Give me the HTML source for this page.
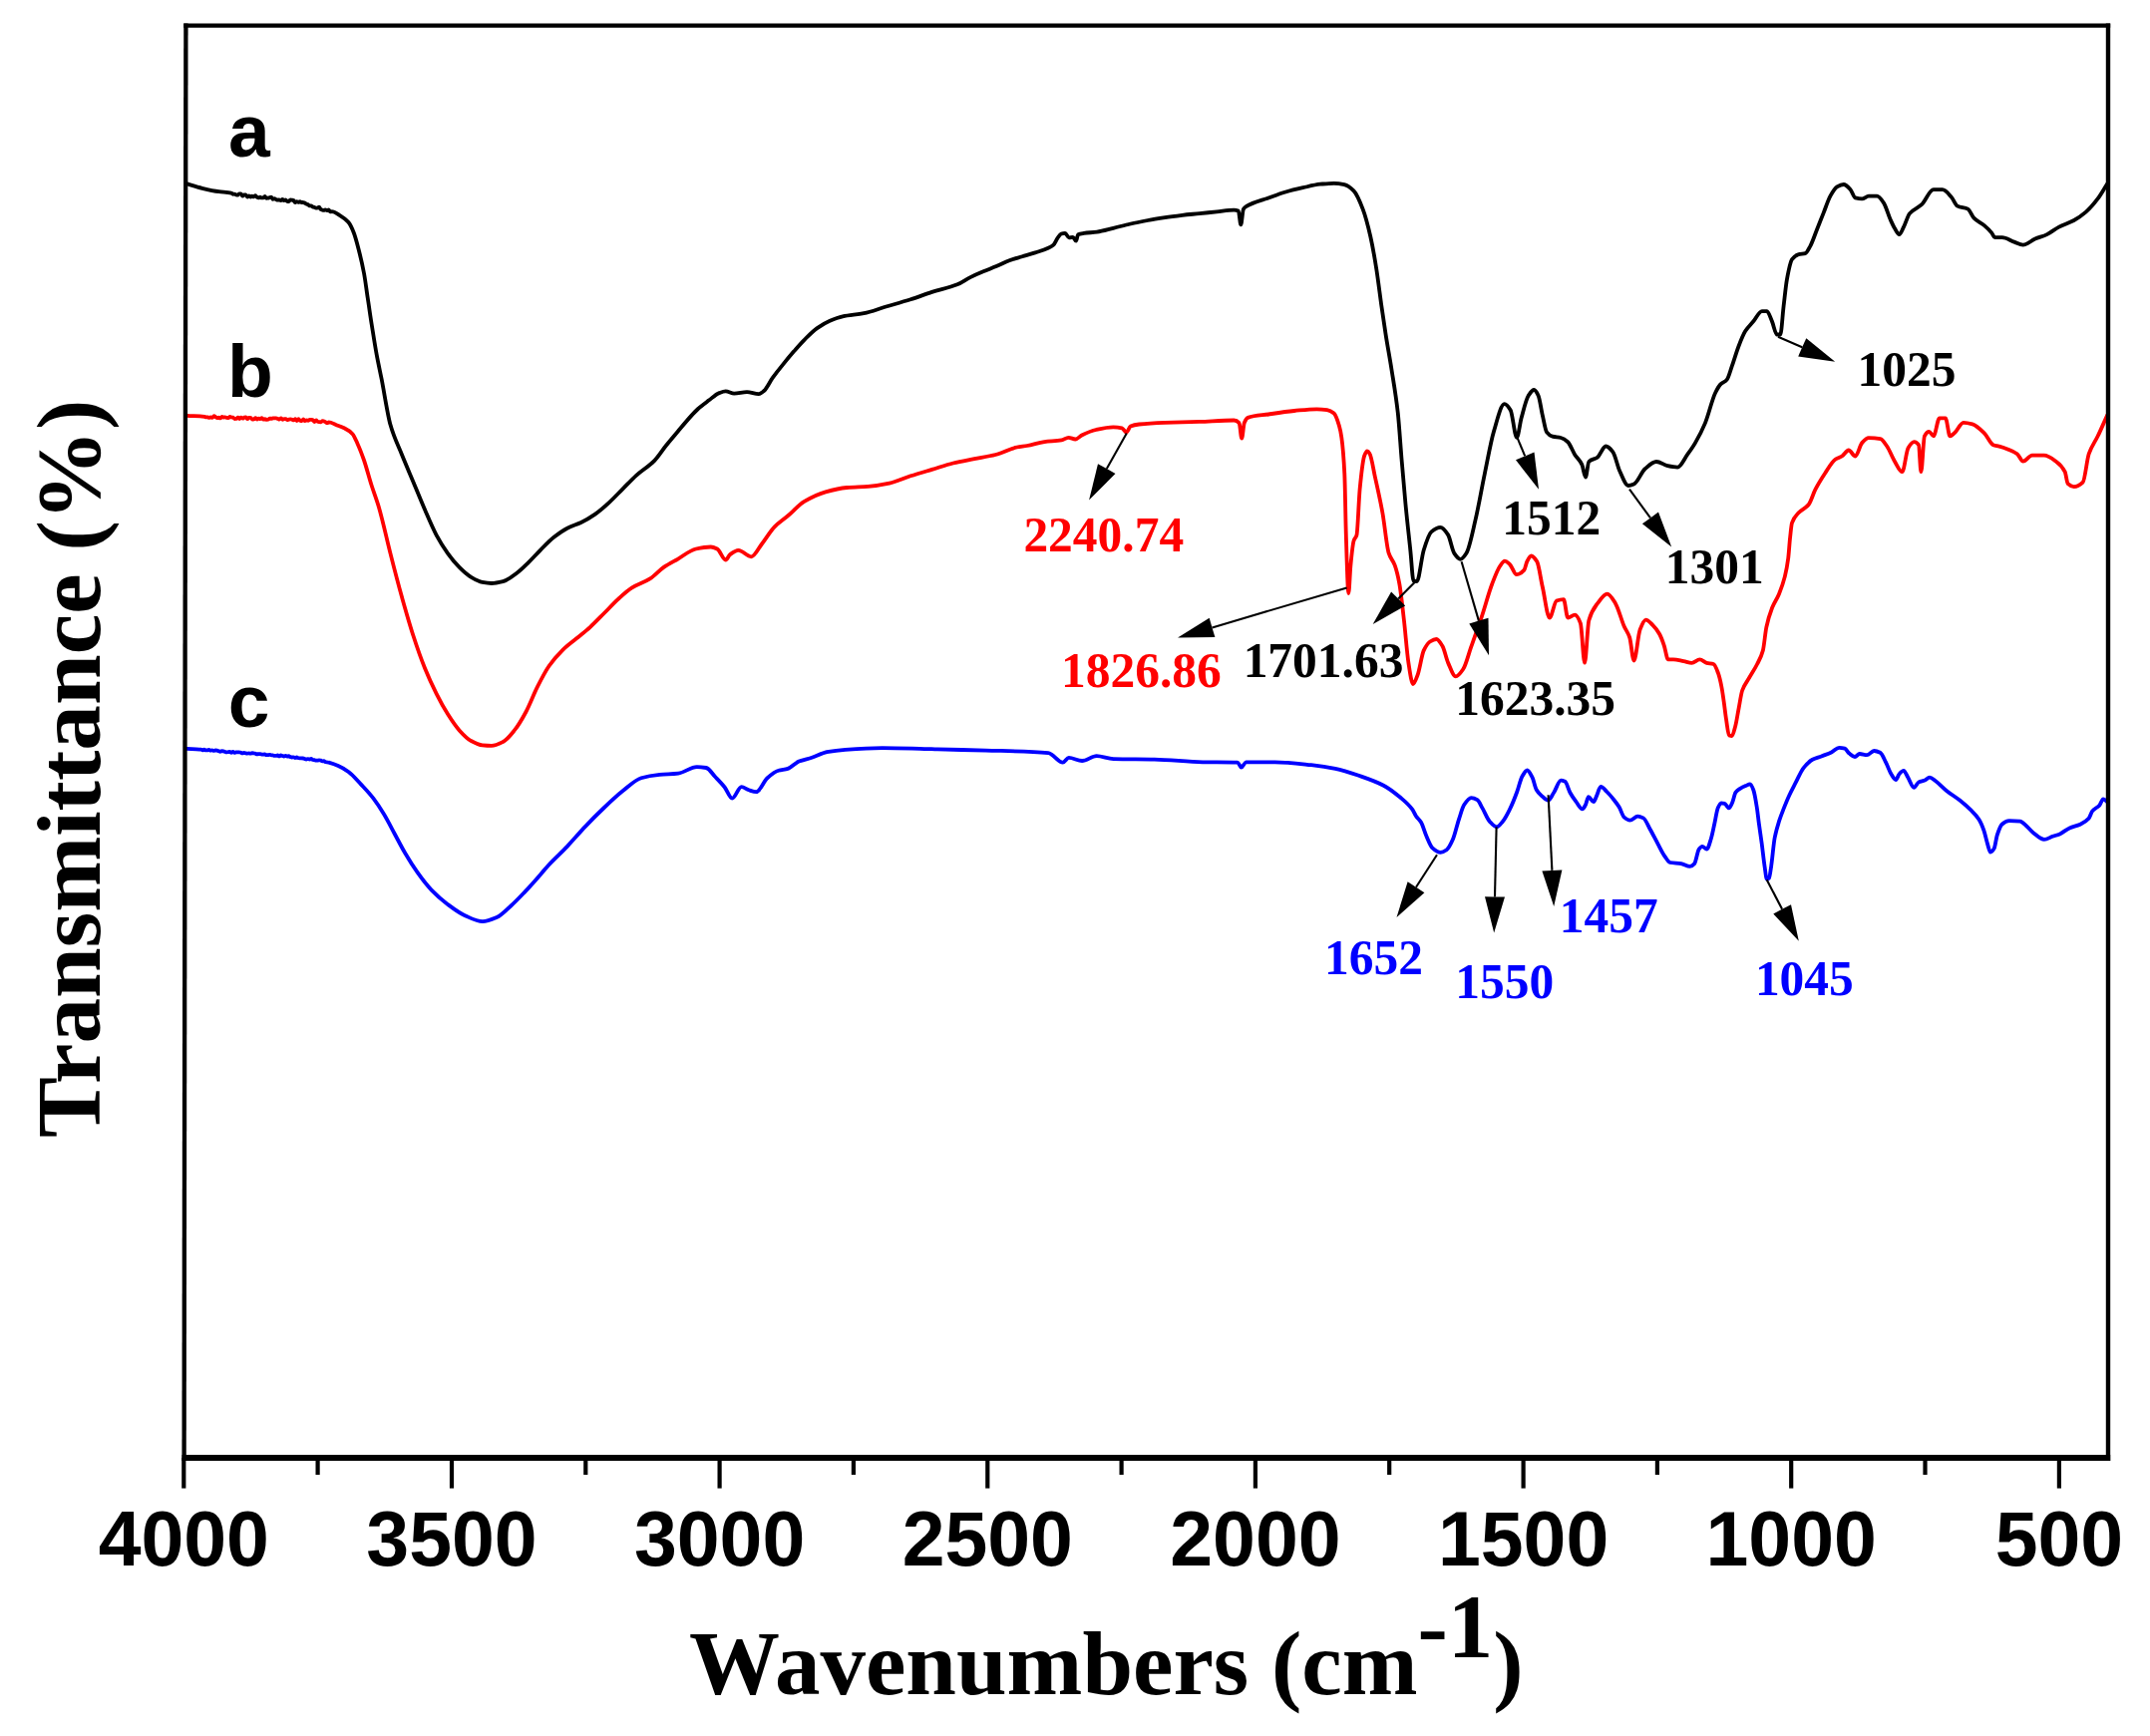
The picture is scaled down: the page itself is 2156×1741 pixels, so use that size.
<!DOCTYPE html>
<html><head><meta charset="utf-8"><title>FTIR spectra</title>
<style>
html,body{margin:0;padding:0;background:#fff;}
body{width:2156px;height:1741px;overflow:hidden;}
svg{display:block;}
.tk{}
</style></head>
<body>
<svg width="2156" height="1741" viewBox="0 0 2156 1741">
<rect x="0" y="0" width="2156" height="1741" fill="#fff"/>
<path d="M187.6,184.4C192.6,185.9 197.7,187.6 202.7,188.8C208.3,190.1 213.9,191.4 219.5,192.2C223.7,192.8 227.8,192.7 232.0,193.7C232.5,193.8 233.1,194.8 233.6,194.8C234.1,194.8 234.7,194.6 235.2,194.6C235.7,194.6 236.3,195.3 236.8,195.4C237.3,195.5 237.9,195.6 238.4,195.6C238.9,195.6 239.5,194.4 240.0,194.4C240.5,194.4 241.1,194.4 241.6,194.4C242.1,194.4 242.7,196.7 243.2,196.7C243.7,196.7 244.3,195.3 244.8,195.3C245.3,195.3 245.9,195.4 246.4,195.4C246.9,195.5 247.5,197.6 248.0,197.6C248.5,197.6 249.1,196.4 249.6,196.4C250.1,196.4 250.7,197.5 251.2,197.5C251.7,197.5 252.3,196.7 252.8,196.7C253.3,196.7 253.9,197.3 254.4,197.3C254.9,197.3 255.5,196.2 256.0,196.2C256.5,196.2 257.1,197.3 257.6,197.6C258.1,198.0 258.7,198.4 259.2,198.4C259.7,198.4 260.3,197.7 260.8,197.7C261.3,197.7 261.9,198.4 262.4,198.4C262.9,198.4 263.5,198.4 264.0,198.4C264.5,198.4 265.1,196.9 265.6,196.9C266.1,196.9 266.7,198.9 267.2,198.9C267.7,198.9 268.3,198.8 268.8,198.6C269.3,198.5 269.9,198.2 270.4,198.1C270.9,197.9 271.5,197.6 272.0,197.6C272.5,197.6 273.1,199.9 273.6,199.9C274.1,199.9 274.7,199.1 275.2,199.1C275.7,199.1 276.3,199.7 276.8,200.0C277.3,200.2 277.9,200.6 278.4,200.6C278.9,200.6 279.5,200.3 280.0,200.3C280.5,200.3 281.1,201.1 281.6,201.1C282.1,201.1 282.7,199.9 283.2,199.9C283.7,199.9 284.3,201.2 284.8,201.2C285.3,201.2 285.9,200.4 286.4,200.4C286.9,200.4 287.5,201.9 288.0,202.0C288.5,202.0 289.1,202.0 289.6,202.0C290.1,202.0 290.7,200.3 291.2,200.3C291.7,200.3 292.3,200.5 292.8,200.6C293.3,200.7 293.9,200.8 294.4,201.0C294.9,201.3 295.5,203.2 296.0,203.2C296.5,203.2 297.1,202.1 297.6,202.1C298.1,202.1 298.7,202.8 299.2,202.8C299.7,202.8 300.3,202.2 300.8,202.2C301.3,202.2 301.9,203.0 302.4,203.0C302.9,203.0 303.5,203.0 304.0,203.0C304.5,203.1 305.1,203.2 305.6,203.5C306.1,203.7 306.7,204.3 307.2,204.6C307.7,204.8 308.3,204.8 308.8,205.1C309.3,205.3 309.9,206.4 310.4,206.4C310.9,206.4 311.5,206.4 312.0,206.4C312.5,206.4 313.1,207.4 313.6,207.5C314.1,207.7 314.7,207.7 315.2,207.9C315.7,208.0 316.3,208.7 316.8,208.7C317.3,208.7 317.9,208.6 318.4,208.4C318.9,208.3 319.5,207.6 320.0,207.6C320.5,207.6 321.1,209.5 321.6,209.9C322.1,210.2 322.7,210.4 323.2,210.6C323.7,210.7 324.3,210.8 324.8,210.8C325.3,210.8 325.9,210.4 326.4,210.4C326.9,210.4 327.5,211.2 328.0,211.2C328.5,211.2 329.1,210.3 329.6,210.3C330.1,210.3 330.7,212.4 331.2,212.4C331.7,212.4 332.3,212.2 332.8,212.2C335.5,212.2 338.2,214.5 340.9,216.1C343.7,217.8 346.5,219.5 349.3,222.8C351.1,224.9 353.0,228.9 354.8,233.5C356.5,237.8 358.2,244.6 359.9,251.2C361.6,257.8 363.3,264.8 365.0,274.0C366.3,280.8 367.5,290.9 368.8,299.3C370.1,307.7 371.3,316.6 372.6,324.7C374.3,335.3 375.9,346.0 377.6,355.1C379.3,364.4 381.0,371.8 382.7,380.4C385.6,395.3 388.6,415.8 391.5,426.1C395.3,439.6 399.2,446.5 403.0,456.0C406.9,465.6 410.7,474.4 414.6,483.7C418.4,492.9 422.3,502.5 426.1,511.3C429.9,520.1 433.8,529.5 437.6,536.6C441.4,543.7 445.3,549.8 449.1,555.1C452.9,560.4 456.8,565.1 460.6,568.9C464.4,572.7 468.3,576.3 472.1,578.6C476.0,580.9 479.8,583.2 483.7,583.9C486.8,584.5 489.8,585.0 492.9,585.0C496.7,585.0 500.6,584.1 504.4,583.2C509.0,582.1 513.6,578.1 518.2,574.7C522.0,571.9 525.9,568.0 529.7,564.3C533.6,560.6 537.4,556.2 541.3,552.3C545.9,547.7 550.5,542.6 555.1,539.0C559.7,535.4 564.3,532.1 568.9,529.7C573.5,527.3 578.1,526.2 582.7,524.0C587.3,521.8 591.9,519.1 596.5,515.9C601.1,512.7 605.8,508.6 610.4,504.4C615.0,500.2 619.6,495.2 624.2,490.6C628.8,486.0 633.4,481.0 638.0,476.8C644.1,471.3 650.3,468.0 656.4,461.8C660.3,457.9 664.1,451.6 668.0,446.8C671.8,442.0 675.7,437.5 679.5,433.0C684.1,427.6 688.7,421.9 693.3,416.9C695.5,414.5 697.8,412.0 700.0,410.0C703.6,406.8 707.1,404.3 710.7,401.6C714.2,399.0 717.8,395.4 721.3,394.1C723.4,393.3 725.6,392.4 727.7,392.4C730.5,392.4 733.4,394.6 736.2,394.6C740.5,394.6 744.7,393.1 749.0,393.1C752.9,393.1 756.9,395.2 760.8,395.2C762.6,395.2 764.3,393.5 766.1,392.0C768.9,389.6 771.8,383.1 774.6,379.2C778.2,374.2 781.7,369.8 785.3,365.4C788.8,361.0 792.4,356.7 795.9,352.6C799.5,348.5 803.0,344.4 806.6,340.8C810.9,336.5 815.1,332.1 819.4,329.1C823.7,326.1 827.9,323.5 832.2,321.7C836.5,319.9 840.7,318.3 845.0,317.4C852.1,315.9 859.2,315.6 866.3,314.2C873.4,312.8 880.5,309.9 887.6,307.8C896.1,305.3 904.7,303.0 913.2,300.3C920.3,298.0 927.4,295.2 934.5,292.9C943.0,290.2 951.5,288.7 960.0,285.3C964.3,283.6 968.7,280.2 973.0,278.1C977.3,276.0 981.7,274.1 986.0,272.3C990.4,270.5 994.7,268.9 999.1,267.1C1003.4,265.3 1007.8,262.8 1012.1,261.2C1016.4,259.6 1020.8,258.6 1025.1,257.3C1029.4,256.0 1033.8,254.8 1038.1,253.4C1042.4,252.0 1046.8,250.8 1051.1,248.8C1052.9,248.0 1054.6,247.2 1056.4,245.6C1057.7,244.4 1059.0,240.9 1060.3,239.1C1061.6,237.3 1062.9,234.9 1064.2,234.5C1065.5,234.1 1066.8,233.9 1068.1,233.9C1069.4,233.9 1070.7,238.4 1072.0,238.4C1073.3,238.4 1074.6,237.8 1075.9,237.8C1077.0,237.8 1078.0,241.7 1079.1,241.7C1079.8,241.7 1080.4,235.5 1081.1,235.2C1083.1,234.3 1085.0,234.2 1087.0,233.9C1091.3,233.3 1095.7,233.2 1100.0,232.6C1105.5,231.8 1110.9,230.1 1116.4,228.8C1122.2,227.4 1127.9,225.8 1133.7,224.5C1139.5,223.2 1145.2,222.1 1151.0,221.0C1156.8,219.9 1162.5,219.0 1168.3,218.1C1174.1,217.2 1179.8,216.5 1185.6,215.8C1191.4,215.1 1197.1,214.7 1202.9,214.1C1208.6,213.5 1214.4,213.0 1220.1,212.4C1225.9,211.8 1231.6,210.6 1237.4,210.6C1238.9,210.6 1240.3,210.9 1241.8,211.5C1242.6,211.9 1243.5,225.3 1244.3,225.3C1245.2,225.3 1246.0,211.3 1246.9,209.8C1247.8,208.3 1248.6,207.7 1249.5,207.2C1257.0,202.5 1264.5,201.2 1272.0,198.5C1277.8,196.4 1283.5,194.2 1289.3,192.5C1295.1,190.8 1300.8,189.5 1306.6,188.2C1312.4,186.9 1318.1,185.3 1323.9,184.7C1328.5,184.3 1333.1,183.8 1337.7,183.8C1341.2,183.8 1344.6,184.4 1348.1,185.2C1351.2,185.9 1354.4,188.3 1357.5,191.4C1360.5,194.4 1363.6,201.8 1366.6,209.7C1369.2,216.4 1371.7,226.0 1374.3,237.2C1376.3,246.1 1378.4,257.9 1380.4,270.8C1381.9,280.5 1383.5,293.6 1385.0,304.4C1386.5,314.9 1388.0,325.3 1389.5,334.9C1391.5,347.9 1393.6,358.4 1395.6,371.5C1397.7,384.8 1399.7,395.5 1401.8,414.3C1403.0,425.5 1404.3,445.4 1405.5,460.1C1406.8,476.0 1408.2,492.0 1409.5,505.9C1411.1,522.6 1412.7,536.4 1414.3,551.7C1415.4,561.9 1416.4,582.2 1417.5,582.5C1418.6,582.8 1419.7,583.0 1420.8,583.0C1423.1,583.0 1425.4,559.0 1427.7,551.7C1430.2,543.7 1432.8,535.5 1435.3,533.4C1438.4,530.8 1441.4,528.8 1444.5,528.8C1447.0,528.8 1449.6,532.5 1452.1,536.4C1454.1,539.5 1456.2,551.7 1458.2,554.7C1460.3,557.8 1462.3,560.8 1464.4,560.8C1466.4,560.8 1468.5,557.8 1470.5,554.7C1473.5,550.1 1476.6,534.0 1479.6,521.1C1482.7,508.1 1485.7,490.0 1488.8,475.3C1491.9,460.6 1494.9,442.9 1498.0,432.6C1501.5,420.8 1505.1,405.1 1508.6,405.1C1510.6,405.1 1512.7,407.9 1514.7,411.2C1516.8,414.6 1518.9,438.8 1521.0,438.8C1522.5,438.8 1524.1,424.9 1525.6,419.3C1528.0,410.6 1530.3,400.3 1532.7,396.7C1534.6,393.9 1536.4,391.0 1538.3,391.0C1539.7,391.0 1541.2,393.7 1542.6,396.7C1544.0,399.6 1545.4,410.3 1546.8,416.4C1548.2,422.5 1549.6,431.6 1551.0,433.4C1552.9,435.9 1554.8,437.1 1556.7,437.6C1559.5,438.4 1562.3,438.3 1565.1,439.0C1567.5,439.6 1569.8,441.1 1572.2,443.2C1574.5,445.3 1576.9,452.2 1579.2,455.9C1581.6,459.6 1583.9,460.9 1586.3,465.8C1587.5,468.4 1588.8,478.5 1590.0,478.5C1591.1,478.5 1592.2,464.1 1593.3,463.0C1596.1,460.1 1599.0,460.8 1601.8,458.7C1604.6,456.6 1607.5,447.5 1610.3,447.5C1612.6,447.5 1615.0,450.2 1617.3,453.1C1619.7,456.0 1622.0,467.8 1624.4,472.8C1627.2,478.7 1630.0,487.0 1632.8,487.0C1634.7,487.0 1636.6,486.3 1638.5,485.5C1642.3,484.0 1646.0,473.2 1649.8,470.0C1653.5,466.8 1657.3,463.0 1661.0,463.0C1664.8,463.0 1668.5,466.4 1672.3,467.2C1675.6,467.9 1678.9,468.6 1682.2,468.6C1685.5,468.6 1688.8,460.5 1692.1,455.9C1694.7,452.3 1697.4,448.6 1700.0,444.1C1703.3,438.4 1706.7,432.1 1710.0,424.1C1713.4,416.0 1716.7,401.0 1720.1,394.0C1721.8,390.5 1723.4,387.4 1725.1,385.6C1727.3,383.2 1729.6,383.3 1731.8,380.6C1733.5,378.6 1735.1,371.9 1736.8,367.2C1739.0,360.9 1741.3,352.9 1743.5,347.2C1745.7,341.5 1748.0,335.6 1750.2,332.1C1753.0,327.7 1755.7,325.4 1758.5,322.1C1761.3,318.7 1764.1,312.1 1766.9,312.1C1768.6,312.1 1770.2,312.1 1771.9,312.1C1773.6,312.1 1775.2,318.3 1776.9,322.1C1778.6,325.9 1780.2,335.5 1781.9,335.5C1783.0,335.5 1784.2,335.5 1785.3,335.5C1786.4,335.5 1787.5,316.2 1788.6,307.0C1789.7,297.8 1790.8,286.3 1791.9,280.3C1793.6,271.1 1795.3,262.4 1797.0,260.2C1799.2,257.3 1801.4,255.7 1803.6,255.2C1805.8,254.6 1808.1,254.8 1810.3,254.2C1812.0,253.7 1813.6,249.9 1815.3,246.9C1817.5,242.8 1819.8,235.8 1822.0,230.2C1824.2,224.6 1826.5,219.0 1828.7,213.4C1830.9,207.8 1833.2,200.7 1835.4,196.7C1837.6,192.7 1839.9,188.7 1842.1,187.4C1844.3,186.1 1846.6,185.0 1848.8,185.0C1851.0,185.0 1853.3,187.6 1855.5,190.0C1857.2,191.8 1858.8,197.9 1860.5,198.4C1862.7,199.0 1865.0,199.4 1867.2,199.4C1869.4,199.4 1871.7,196.7 1873.9,196.7C1876.7,196.7 1879.4,196.7 1882.2,196.7C1884.4,196.7 1886.7,200.2 1888.9,203.4C1891.1,206.6 1893.4,215.1 1895.6,220.1C1897.1,223.4 1898.5,226.6 1900.0,229.0C1901.5,231.4 1903.0,235.1 1904.5,235.1C1906.0,235.1 1907.5,230.5 1909.0,227.6C1911.0,223.8 1913.0,216.5 1915.0,214.1C1919.0,209.4 1923.0,208.9 1927.0,205.2C1931.0,201.5 1934.9,190.2 1938.9,190.2C1941.9,190.2 1944.9,190.2 1947.9,190.2C1950.9,190.2 1953.9,194.4 1956.9,197.7C1958.9,199.9 1960.9,205.6 1962.9,206.6C1966.4,208.4 1969.9,207.8 1973.4,209.6C1975.4,210.6 1977.4,216.6 1979.4,218.6C1982.9,222.1 1986.3,223.2 1989.8,226.1C1992.3,228.2 1994.8,230.5 1997.3,233.6C1998.3,234.8 1999.3,238.1 2000.3,238.1C2002.8,238.1 2005.3,238.1 2007.8,238.1C2011.8,238.1 2015.8,241.2 2019.8,242.6C2022.8,243.7 2025.8,245.6 2028.8,245.6C2032.8,245.6 2036.8,241.3 2040.8,239.6C2044.8,237.9 2048.7,237.0 2052.7,235.1C2056.7,233.2 2060.7,229.7 2064.7,227.6C2069.7,225.0 2074.7,223.7 2079.7,221.0C2083.7,218.8 2087.7,216.0 2091.7,212.6C2095.7,209.2 2099.7,204.5 2103.7,199.2C2106.9,195.0 2110.0,189.2 2113.2,184.2" fill="none" stroke="#000" stroke-width="3.8" stroke-linejoin="round" stroke-linecap="round"/>
<path d="M187.6,416.8C193.4,417.2 199.2,417.3 205.0,417.9C205.5,418.0 206.1,418.2 206.6,418.3C207.1,418.3 207.7,418.4 208.2,418.4C208.7,418.5 209.3,418.8 209.8,418.8C210.3,418.8 210.9,418.5 211.4,418.5C211.9,418.5 212.5,418.9 213.0,418.9C213.5,418.9 214.1,417.2 214.6,417.2C215.1,417.2 215.7,417.9 216.2,418.2C216.7,418.5 217.3,419.2 217.8,419.2C218.3,419.2 218.9,418.7 219.4,418.7C219.9,418.7 220.5,419.3 221.0,419.3C221.5,419.3 222.1,417.8 222.6,417.8C223.1,417.8 223.7,418.6 224.2,418.6C224.7,418.6 225.3,418.3 225.8,418.3C226.3,418.3 226.9,418.9 227.4,418.9C227.9,419.0 228.5,419.1 229.0,419.1C229.5,419.1 230.1,418.0 230.6,418.0C231.1,418.0 231.7,418.4 232.2,418.5C232.7,418.6 233.3,418.6 233.8,418.7C234.3,418.9 234.9,420.1 235.4,420.1C235.9,420.1 236.5,420.0 237.0,419.8C237.5,419.7 238.1,418.7 238.6,418.7C239.1,418.7 239.7,420.0 240.2,420.0C240.7,420.0 241.3,418.7 241.8,418.7C242.3,418.7 242.9,419.6 243.4,419.6C243.9,419.6 244.5,418.8 245.0,418.7C245.5,418.6 246.1,418.5 246.6,418.5C247.1,418.5 247.7,420.2 248.2,420.2C248.7,420.2 249.3,418.9 249.8,418.9C250.3,418.9 250.9,418.9 251.4,419.0C251.9,419.0 252.5,420.5 253.0,420.5C253.5,420.5 254.1,420.4 254.6,420.3C255.1,420.2 255.7,419.2 256.2,419.2C256.7,419.2 257.3,420.6 257.8,420.6C258.3,420.6 258.9,419.7 259.4,419.7C259.9,419.7 260.5,420.0 261.0,420.0C261.5,420.0 262.1,419.1 262.6,419.1C263.1,419.1 263.7,420.7 264.2,420.7C264.7,420.7 265.3,420.2 265.8,420.2C266.3,420.2 266.9,420.8 267.4,420.8C267.9,420.8 268.5,420.8 269.0,420.7C269.5,420.7 270.1,419.6 270.6,419.6C271.1,419.6 271.7,419.8 272.2,419.8C272.7,419.8 273.3,419.4 273.8,419.4C274.3,419.4 274.9,419.4 275.4,419.4C275.9,419.4 276.5,419.3 277.0,419.3C277.5,419.3 278.1,419.7 278.6,419.9C279.1,420.0 279.7,420.5 280.2,420.5C280.7,420.5 281.3,419.4 281.8,419.4C282.3,419.4 282.9,420.8 283.4,420.8C283.9,420.8 284.5,420.1 285.0,420.1C285.5,420.1 286.1,420.1 286.6,420.1C287.1,420.1 287.7,421.2 288.2,421.2C288.7,421.2 289.3,420.7 289.8,420.6C290.3,420.5 290.9,420.4 291.4,420.4C291.9,420.4 292.5,420.6 293.0,420.8C293.5,421.0 294.1,421.3 294.6,421.3C295.1,421.3 295.7,420.1 296.2,420.1C296.7,420.1 297.3,422.0 297.8,422.0C298.3,422.0 298.9,420.2 299.4,420.2C299.9,420.2 300.5,421.6 301.0,421.8C301.5,421.9 302.1,422.0 302.6,422.0C303.1,422.0 303.7,420.5 304.2,420.5C304.7,420.5 305.3,422.1 305.8,422.1C306.3,422.1 306.9,421.3 307.4,421.3C307.9,421.3 308.5,421.8 309.0,421.8C309.5,421.8 310.1,420.8 310.6,420.8C311.1,420.8 311.7,420.9 312.2,420.9C312.7,421.0 313.3,421.1 313.8,421.3C314.3,421.5 314.9,423.0 315.4,423.0C315.9,423.0 316.5,421.5 317.0,421.5C317.5,421.5 318.1,422.5 318.6,422.8C319.1,423.0 319.7,423.1 320.2,423.2C320.7,423.3 321.3,423.3 321.8,423.3C322.3,423.3 322.9,422.2 323.4,422.2C323.9,422.2 324.5,422.4 325.0,422.5C325.5,422.7 326.1,423.0 326.6,423.3C327.1,423.6 327.7,424.2 328.2,424.2C328.7,424.2 329.3,423.3 329.8,423.3C332.1,423.3 334.5,425.1 336.8,426.0C339.6,427.1 342.3,427.9 345.1,429.3C347.9,430.7 350.7,432.2 353.5,435.2C355.2,437.0 356.8,441.3 358.5,445.0C360.7,449.8 362.8,455.3 365.0,461.5C367.5,468.8 370.1,478.8 372.6,486.8C375.1,494.6 377.5,500.6 380.0,509.0C383.8,522.0 387.7,540.1 391.5,555.1C395.3,570.1 399.2,585.1 403.0,598.8C406.9,612.6 410.7,626.1 414.6,638.0C418.4,649.8 422.3,660.8 426.1,670.3C429.9,679.8 433.8,688.0 437.6,695.6C441.4,703.2 445.3,710.3 449.1,716.3C452.9,722.3 456.8,728.2 460.6,732.4C464.4,736.6 468.3,740.7 472.1,742.8C476.0,744.9 479.8,747.0 483.7,747.4C486.8,747.7 489.8,747.9 492.9,747.9C496.7,747.9 500.6,745.9 504.4,744.0C508.2,742.1 512.1,737.1 515.9,732.4C519.7,727.7 523.6,721.1 527.4,714.0C531.3,706.9 535.1,696.3 539.0,688.7C542.8,681.1 546.7,673.5 550.5,668.0C555.1,661.4 559.7,656.3 564.3,651.8C568.9,647.3 573.5,644.1 578.1,640.3C582.7,636.5 587.3,633.0 591.9,628.8C596.5,624.6 601.2,619.6 605.8,615.0C610.4,610.4 615.0,605.3 619.6,601.1C624.2,596.9 628.8,592.5 633.4,589.6C639.5,585.7 645.7,584.3 651.8,580.4C656.4,577.5 661.0,572.1 665.6,568.9C670.2,565.7 674.9,563.4 679.5,560.8C685.6,557.3 691.8,551.8 697.9,550.5C702.9,549.4 707.8,548.5 712.8,548.5C714.9,548.5 717.1,549.5 719.2,550.5C722.0,551.9 724.9,561.5 727.7,561.5C729.1,561.5 730.6,557.3 732.0,556.2C734.8,554.1 737.7,551.9 740.5,551.9C744.8,551.9 749.0,558.3 753.3,558.3C756.9,558.3 760.4,550.0 764.0,545.5C768.2,540.1 772.5,532.7 776.7,528.4C781.0,524.0 785.2,521.4 789.5,517.8C795.2,513.0 800.9,506.3 806.6,502.9C813.7,498.6 820.8,495.3 827.9,493.3C835.0,491.3 842.1,489.6 849.2,489.0C856.3,488.4 863.4,488.4 870.5,487.9C877.6,487.4 884.8,486.2 891.9,484.7C899.0,483.2 906.1,479.6 913.2,477.3C920.3,475.0 927.4,473.0 934.5,470.9C941.6,468.8 948.7,466.2 955.8,464.5C962.9,462.8 970.0,461.6 977.1,460.2C984.2,458.8 991.3,457.8 998.4,456.0C1005.5,454.2 1012.7,449.9 1019.8,448.5C1023.2,447.8 1026.6,447.6 1030.0,447.0C1035.8,446.0 1041.5,443.9 1047.3,443.1C1053.1,442.3 1058.8,442.4 1064.6,441.4C1066.9,441.0 1069.2,438.8 1071.5,438.8C1073.8,438.8 1076.1,440.5 1078.4,440.5C1080.7,440.5 1083.0,437.3 1085.3,436.2C1089.9,434.0 1094.5,432.0 1099.1,431.0C1104.9,429.7 1110.6,428.4 1116.4,428.4C1119.3,428.4 1122.2,428.7 1125.1,429.3C1126.5,429.6 1128.0,433.6 1129.4,433.6C1130.8,433.6 1132.3,428.2 1133.7,427.6C1136.6,426.3 1139.5,425.8 1142.4,425.5C1151.0,424.5 1159.7,424.1 1168.3,423.8C1179.8,423.4 1191.4,423.3 1202.9,422.9C1214.4,422.5 1225.9,421.5 1237.4,421.5C1239.1,421.5 1240.9,422.3 1242.6,424.1C1243.5,425.0 1244.3,439.7 1245.2,439.7C1246.1,439.7 1246.9,426.2 1247.8,424.1C1249.0,421.2 1250.1,419.3 1251.3,418.9C1258.2,416.4 1265.1,416.5 1272.0,415.5C1280.6,414.2 1289.3,412.8 1297.9,412.0C1305.4,411.3 1312.9,410.3 1320.4,410.3C1323.9,410.3 1327.3,410.6 1330.8,411.1C1333.1,411.4 1335.4,412.6 1337.7,414.5C1339.4,416.0 1341.2,421.2 1342.9,427.0C1343.7,429.7 1344.5,433.2 1345.3,438.7C1346.3,445.6 1347.3,455.3 1348.3,475.3C1348.8,485.3 1349.3,521.2 1349.8,536.4C1350.6,561.8 1351.5,595.0 1352.3,595.0C1353.0,595.0 1353.7,574.1 1354.4,567.0C1355.4,556.6 1356.5,545.8 1357.5,542.5C1358.5,539.3 1359.5,540.0 1360.5,536.4C1361.5,532.7 1362.6,500.9 1363.6,490.6C1365.1,475.3 1366.7,460.8 1368.2,457.0C1369.1,454.7 1370.1,452.5 1371.0,452.5C1371.8,452.5 1372.7,453.7 1373.5,455.0C1375.3,457.7 1377.1,470.2 1378.9,478.4C1381.4,489.9 1384.0,500.9 1386.5,515.0C1388.5,526.3 1390.6,548.5 1392.6,554.7C1394.6,560.9 1396.7,561.4 1398.7,566.9C1400.2,571.1 1401.8,577.1 1403.3,585.3C1404.8,593.5 1406.4,608.6 1407.9,621.9C1409.4,634.9 1410.9,655.2 1412.4,664.6C1413.9,674.2 1415.5,686.0 1417.0,686.0C1418.5,686.0 1420.1,680.9 1421.6,676.9C1423.6,671.6 1425.7,656.7 1427.7,652.4C1429.8,648.0 1431.9,644.8 1434.0,643.5C1436.1,642.2 1438.3,641.0 1440.4,641.0C1442.4,641.0 1444.5,644.6 1446.5,648.0C1448.4,651.1 1450.2,660.4 1452.1,664.6C1454.7,670.4 1457.2,678.4 1459.8,678.4C1462.3,678.4 1464.9,674.5 1467.4,670.8C1469.9,667.1 1472.5,656.6 1475.0,649.4C1478.6,639.3 1482.1,629.6 1485.7,618.9C1489.3,608.2 1492.8,594.6 1496.4,585.3C1498.9,578.7 1501.5,571.6 1504.0,568.0C1505.7,565.6 1507.3,562.7 1509.0,562.7C1510.7,562.7 1512.3,564.5 1514.0,566.0C1516.3,568.0 1518.5,576.1 1520.8,576.1C1523.4,576.1 1525.9,574.4 1528.5,571.6C1529.4,570.6 1530.4,564.9 1531.3,563.1C1532.7,560.4 1534.1,557.5 1535.5,557.5C1537.4,557.5 1539.3,560.0 1541.2,563.1C1543.1,566.1 1544.9,580.2 1546.8,588.5C1549.2,599.0 1551.5,619.5 1553.9,619.5C1556.2,619.5 1558.6,603.5 1560.9,602.6C1563.3,601.7 1565.6,601.2 1568.0,601.2C1569.4,601.2 1570.8,619.5 1572.2,619.5C1574.5,619.5 1576.9,616.7 1579.2,616.7C1581.1,616.7 1583.0,620.1 1584.9,625.2C1586.3,628.9 1587.7,664.7 1589.1,664.7C1590.5,664.7 1591.9,627.3 1593.3,622.3C1596.1,612.1 1599.0,609.2 1601.8,605.4C1605.1,601.0 1608.4,595.6 1611.7,595.6C1614.5,595.6 1617.3,600.9 1620.1,605.4C1622.9,610.0 1625.8,621.6 1628.6,628.0C1630.5,632.2 1632.3,633.7 1634.2,639.3C1635.6,643.6 1637.1,662.5 1638.5,662.5C1640.5,662.5 1642.6,636.5 1644.6,631.4C1646.5,626.5 1648.5,621.6 1650.4,621.6C1652.7,621.6 1655.0,624.6 1657.3,626.8C1659.6,629.0 1661.9,631.9 1664.2,636.0C1665.7,638.7 1667.3,643.1 1668.8,647.6C1670.1,651.5 1671.5,661.4 1672.8,661.4C1674.5,661.4 1676.3,661.4 1678.0,661.4C1681.5,661.4 1684.9,662.5 1688.4,663.1C1691.1,663.6 1693.8,664.8 1696.5,664.8C1699.2,664.8 1701.8,661.4 1704.5,661.4C1706.8,661.4 1709.1,664.2 1711.4,664.8C1713.7,665.4 1716.0,665.2 1718.3,666.0C1719.9,666.5 1721.4,671.0 1723.0,675.2C1724.1,678.3 1725.3,683.2 1726.4,689.0C1727.2,692.9 1727.9,698.6 1728.7,704.0C1729.5,709.4 1730.2,716.4 1731.0,721.3C1732.0,727.5 1732.9,737.0 1733.9,737.4C1734.9,737.8 1735.8,738.0 1736.8,738.0C1737.9,738.0 1739.1,732.4 1740.2,728.2C1741.4,723.9 1742.5,715.8 1743.7,709.8C1744.8,703.9 1746.0,695.7 1747.1,692.5C1749.4,685.9 1751.8,683.9 1754.1,679.8C1756.8,675.1 1759.4,671.4 1762.1,666.0C1764.0,662.1 1766.0,659.3 1767.9,652.2C1769.0,648.0 1770.2,634.4 1771.3,629.1C1773.2,620.1 1775.2,614.4 1777.1,609.5C1779.4,603.7 1781.7,601.2 1784.0,595.7C1785.9,591.0 1787.9,586.0 1789.8,578.4C1790.9,573.9 1792.1,568.6 1793.2,560.0C1793.8,555.5 1794.4,545.5 1795.0,540.0C1795.7,533.9 1796.3,526.3 1797.0,524.4C1799.2,518.0 1801.4,516.7 1803.6,514.3C1807.0,510.6 1810.3,510.2 1813.7,506.0C1815.9,503.2 1818.2,495.2 1820.4,490.9C1823.7,484.4 1827.1,479.2 1830.4,474.2C1833.7,469.2 1837.1,463.1 1840.4,460.8C1842.6,459.2 1844.9,458.9 1847.1,457.5C1849.3,456.1 1851.6,451.5 1853.8,451.5C1856.0,451.5 1858.3,457.5 1860.5,457.5C1862.7,457.5 1865.0,446.5 1867.2,444.1C1869.4,441.7 1871.7,439.1 1873.9,439.1C1877.8,439.1 1881.7,439.4 1885.6,440.1C1887.8,440.5 1890.0,444.4 1892.2,447.5C1894.8,451.2 1897.4,458.5 1900.0,462.7C1902.5,466.8 1905.0,473.2 1907.5,473.2C1909.5,473.2 1911.5,452.4 1913.5,449.2C1915.5,446.0 1917.5,443.2 1919.5,443.2C1921.0,443.2 1922.5,444.1 1924.0,446.2C1924.8,447.3 1925.6,473.2 1926.4,473.2C1927.6,473.2 1928.7,439.5 1929.9,437.3C1931.4,434.5 1932.9,432.8 1934.4,432.8C1935.9,432.8 1937.4,437.3 1938.9,437.3C1940.9,437.3 1942.9,419.3 1944.9,419.3C1946.9,419.3 1948.9,419.3 1950.9,419.3C1952.4,419.3 1953.9,437.3 1955.4,437.3C1956.9,437.3 1958.4,435.5 1959.9,434.3C1962.9,431.8 1965.9,423.8 1968.9,423.8C1971.9,423.8 1974.9,424.5 1977.9,425.3C1981.9,426.4 1985.8,430.4 1989.8,434.3C1992.8,437.2 1995.8,445.0 1998.8,446.2C2000.8,447.0 2002.8,447.1 2004.8,447.7C2007.8,448.5 2010.8,449.5 2013.8,450.7C2016.8,451.9 2019.8,453.0 2022.8,455.2C2024.8,456.7 2026.8,462.7 2028.8,462.7C2031.8,462.7 2034.8,456.7 2037.8,456.7C2041.8,456.7 2045.7,456.7 2049.7,456.7C2053.7,456.7 2057.7,459.8 2061.7,462.7C2064.7,464.8 2067.7,467.2 2070.7,473.2C2071.7,475.2 2072.7,484.2 2073.7,485.2C2075.7,487.1 2077.7,488.2 2079.7,488.2C2082.7,488.2 2085.7,486.6 2088.7,483.7C2090.7,481.8 2092.7,461.0 2094.7,455.2C2097.7,446.6 2100.7,443.6 2103.7,437.3C2106.9,430.7 2110.0,423.3 2113.2,416.3" fill="none" stroke="#ff0000" stroke-width="3.8" stroke-linejoin="round" stroke-linecap="round"/>
<path d="M187.1,750.9C191.4,751.1 195.7,751.6 200.0,751.6C200.5,751.6 201.1,751.6 201.6,751.6C202.1,751.6 202.7,752.3 203.2,752.3C203.7,752.3 204.3,751.7 204.8,751.7C205.3,751.7 205.9,752.4 206.4,752.4C206.9,752.4 207.5,752.3 208.0,752.3C208.5,752.3 209.1,752.0 209.6,752.0C210.1,752.0 210.7,752.7 211.2,752.7C211.7,752.7 212.3,752.3 212.8,752.3C213.3,752.3 213.9,752.9 214.4,752.9C214.9,752.9 215.5,752.5 216.0,752.5C216.5,752.5 217.1,752.6 217.6,752.7C218.1,752.8 218.7,753.0 219.2,753.2C219.7,753.4 220.3,753.8 220.8,753.8C221.3,753.8 221.9,753.1 222.4,753.1C222.9,753.1 223.5,753.2 224.0,753.3C224.5,753.4 225.1,753.7 225.6,753.9C226.1,754.1 226.7,754.4 227.2,754.4C227.7,754.4 228.3,754.1 228.8,754.1C229.3,754.0 229.9,754.0 230.4,754.0C230.9,754.0 231.5,754.8 232.0,754.8C232.5,754.8 233.1,753.8 233.6,753.8C234.1,753.8 234.7,754.9 235.2,754.9C235.7,754.9 236.3,754.4 236.8,754.3C237.3,754.3 237.9,754.3 238.4,754.3C238.9,754.3 239.5,754.3 240.0,754.4C240.5,754.4 241.1,754.5 241.6,754.7C242.1,754.9 242.7,755.4 243.2,755.4C243.7,755.4 244.3,754.8 244.8,754.8C245.3,754.8 245.9,755.3 246.4,755.4C246.9,755.5 247.5,755.6 248.0,755.6C248.5,755.6 249.1,755.4 249.6,755.4C250.1,755.4 250.7,755.7 251.2,755.7C251.7,755.7 252.3,755.2 252.8,755.2C253.3,755.2 253.9,755.3 254.4,755.4C254.9,755.4 255.5,755.5 256.0,755.7C256.5,755.8 257.1,756.3 257.6,756.3C258.1,756.3 258.7,756.2 259.2,756.2C259.7,756.2 260.3,756.1 260.8,756.1C261.3,756.1 261.9,756.6 262.4,756.6C262.9,756.6 263.5,756.6 264.0,756.6C264.5,756.5 265.1,756.5 265.6,756.5C266.1,756.5 266.7,757.2 267.2,757.2C267.7,757.2 268.3,757.2 268.8,757.2C269.3,757.2 269.9,756.8 270.4,756.8C270.9,756.8 271.5,757.3 272.0,757.3C272.5,757.4 273.1,757.3 273.6,757.4C274.1,757.4 274.7,757.9 275.2,757.9C275.7,757.9 276.3,757.9 276.8,757.9C277.3,757.8 277.9,757.5 278.4,757.5C278.9,757.5 279.5,758.4 280.0,758.4C280.5,758.4 281.1,757.5 281.6,757.5C282.1,757.5 282.7,757.8 283.2,758.0C283.7,758.2 284.3,758.5 284.8,758.5C285.3,758.5 285.9,757.9 286.4,757.9C286.9,757.9 287.5,758.5 288.0,758.5C288.5,758.5 289.1,758.2 289.6,758.2C290.1,758.2 290.7,759.0 291.2,759.1C291.7,759.3 292.3,759.5 292.8,759.5C293.3,759.5 293.9,759.4 294.4,759.4C294.9,759.4 295.5,760.0 296.0,760.0C296.5,760.0 297.1,759.5 297.6,759.5C298.1,759.5 298.7,760.1 299.2,760.2C299.7,760.2 300.3,760.2 300.8,760.3C301.3,760.3 301.9,760.4 302.4,760.4C302.9,760.5 303.5,760.5 304.0,760.5C304.5,760.5 305.1,761.0 305.6,761.1C306.1,761.3 306.7,761.5 307.2,761.5C307.7,761.5 308.3,761.1 308.8,761.1C309.3,761.1 309.9,761.5 310.4,761.5C310.9,761.5 311.5,761.0 312.0,761.0C312.5,761.0 313.1,761.9 313.6,762.0C314.1,762.1 314.7,762.0 315.2,762.1C315.7,762.2 316.3,762.7 316.8,762.7C317.3,762.7 317.9,762.7 318.4,762.7C318.9,762.7 319.5,762.3 320.0,762.3C320.5,762.3 321.1,762.5 321.6,762.6C322.1,762.8 322.7,763.4 323.2,763.4C323.7,763.4 324.3,763.1 324.8,763.1C325.3,763.1 325.9,764.1 326.4,764.2C326.9,764.2 327.5,764.2 328.0,764.3C328.5,764.3 329.1,764.5 329.6,764.7C332.8,765.6 335.9,766.6 339.1,768.0C342.6,769.5 346.2,771.6 349.7,774.2C353.8,777.2 357.9,782.2 362.0,786.6C366.1,791.0 370.3,795.3 374.4,800.7C377.9,805.3 381.5,810.8 385.0,816.6C388.5,822.4 392.1,829.5 395.6,836.0C399.1,842.5 402.7,849.5 406.2,855.5C410.3,862.5 414.5,869.1 418.6,874.9C423.3,881.5 428.0,887.7 432.7,892.6C438.0,898.1 443.3,902.7 448.6,906.7C454.5,911.1 460.4,915.6 466.3,918.2C472.2,920.8 478.1,924.1 484.0,924.1C488.7,924.1 493.4,922.0 498.1,920.0C502.8,918.0 507.6,912.7 512.3,908.5C517.0,904.3 521.7,899.3 526.4,894.4C531.7,888.8 537.0,882.8 542.3,876.7C544.9,873.8 547.4,870.5 550.0,867.7C556.2,860.9 562.4,855.6 568.6,849.1C574.8,842.6 581.0,835.1 587.2,828.6C593.4,822.1 599.6,815.9 605.8,810.0C612.0,804.1 618.2,798.2 624.4,793.3C630.6,788.4 636.8,782.0 643.0,780.2C649.2,778.4 655.4,777.5 661.6,776.9C667.8,776.3 674.0,776.3 680.2,775.6C686.4,774.9 692.6,769.1 698.8,769.1C701.9,769.1 705.0,769.5 708.1,770.0C711.2,770.5 714.3,776.1 717.4,779.3C720.5,782.5 723.6,785.6 726.7,789.5C729.2,792.7 731.7,800.7 734.2,800.7C737.3,800.7 740.4,789.2 743.5,789.2C746.0,789.2 748.4,791.5 750.9,792.3C753.4,793.1 755.9,794.2 758.4,794.2C762.1,794.2 765.8,783.4 769.5,780.2C773.2,777.0 777.0,773.9 780.7,772.8C783.8,771.8 786.9,771.9 790.0,770.9C793.7,769.8 797.5,765.0 801.2,763.5C805.5,761.8 809.9,761.2 814.2,759.8C819.2,758.2 824.1,755.2 829.1,754.2C835.3,753.0 841.5,752.2 847.7,751.8C860.1,750.9 872.5,750.1 884.9,750.1C897.3,750.1 909.7,750.5 922.1,750.8C928.1,750.9 934.0,751.2 940.0,751.4C956.1,751.9 972.3,752.1 988.4,752.6C1009.3,753.2 1030.3,753.2 1051.2,755.1C1056.1,755.5 1060.9,764.7 1065.8,764.7C1067.8,764.7 1069.8,759.9 1071.8,759.9C1076.2,759.9 1080.7,763.0 1085.1,763.0C1089.9,763.0 1094.8,758.2 1099.6,758.2C1105.2,758.2 1110.9,761.0 1116.5,761.1C1130.2,761.5 1144.0,761.3 1157.7,761.6C1173.8,761.9 1189.9,764.0 1206.0,764.3C1217.7,764.5 1229.4,764.3 1241.1,764.7C1242.3,764.7 1243.5,769.6 1244.7,769.6C1246.3,769.6 1248.0,764.3 1249.6,764.3C1259.3,764.3 1268.9,764.3 1278.6,764.3C1290.7,764.3 1302.7,765.9 1314.8,767.2C1322.9,768.1 1330.9,769.2 1339.0,770.8C1347.1,772.4 1355.1,775.2 1363.2,778.0C1371.3,780.8 1379.3,783.5 1387.4,787.7C1393.0,790.6 1398.7,795.1 1404.3,799.8C1408.3,803.2 1412.4,806.4 1416.4,811.9C1417.6,813.5 1418.8,816.7 1420.0,818.5C1421.7,821.0 1423.4,821.9 1425.1,824.7C1426.8,827.5 1428.5,834.2 1430.2,838.0C1432.3,842.7 1434.3,848.4 1436.4,850.3C1439.1,852.8 1441.9,854.9 1444.6,854.9C1446.6,854.9 1448.7,853.7 1450.7,852.3C1452.7,850.9 1454.8,846.6 1456.8,842.1C1458.9,837.5 1460.9,827.9 1463.0,821.6C1464.7,816.5 1466.4,809.9 1468.1,807.3C1470.5,803.7 1472.9,800.1 1475.3,800.1C1477.3,800.1 1479.4,801.0 1481.4,802.2C1483.1,803.2 1484.8,807.5 1486.5,810.4C1488.9,814.5 1491.3,821.0 1493.7,823.7C1496.1,826.3 1498.4,829.3 1500.8,829.3C1502.9,829.3 1504.9,826.1 1507.0,823.7C1509.4,820.9 1511.7,816.2 1514.1,811.4C1516.5,806.6 1518.9,800.5 1521.3,794.0C1523.0,789.4 1524.7,781.6 1526.4,778.7C1528.1,775.8 1529.8,772.5 1531.5,772.5C1533.2,772.5 1534.9,776.4 1536.6,779.7C1538.0,782.4 1539.3,789.7 1540.7,792.0C1542.4,795.0 1544.2,796.6 1545.9,798.1C1548.1,800.0 1550.3,802.7 1552.5,802.7C1554.4,802.7 1556.2,797.8 1558.1,795.0C1560.5,791.4 1562.9,782.7 1565.3,782.7C1566.7,782.7 1568.0,783.2 1569.4,783.8C1571.1,784.6 1572.8,791.9 1574.5,795.0C1576.5,798.7 1578.6,801.5 1580.6,804.2C1582.7,806.9 1584.7,811.4 1586.8,811.4C1587.8,811.4 1588.9,809.1 1589.9,807.3C1590.9,805.5 1591.9,799.1 1592.9,799.1C1594.6,799.1 1596.3,804.2 1598.0,804.2C1599.0,804.2 1600.1,800.3 1601.1,798.1C1602.5,795.2 1603.8,788.9 1605.2,788.9C1607.2,788.9 1609.3,792.0 1611.3,794.0C1613.7,796.3 1616.1,799.2 1618.5,802.2C1620.2,804.3 1621.9,806.5 1623.6,809.3C1625.3,812.1 1627.0,818.2 1628.7,819.6C1630.6,821.2 1632.6,822.6 1634.5,822.6C1637.1,822.6 1639.7,818.7 1642.3,818.7C1644.2,818.7 1646.0,819.5 1647.9,820.4C1650.1,821.5 1652.4,827.6 1654.6,831.5C1657.2,836.1 1659.8,841.3 1662.4,846.1C1664.6,850.2 1666.9,855.1 1669.1,858.3C1671.0,861.0 1672.8,864.6 1674.7,865.0C1678.4,865.7 1682.1,865.5 1685.8,866.1C1688.8,866.6 1691.7,868.9 1694.7,868.9C1696.2,868.9 1697.7,867.7 1699.2,866.1C1700.7,864.5 1702.2,853.6 1703.7,851.6C1704.8,850.2 1705.9,848.8 1707.0,848.8C1708.5,848.8 1710.0,851.6 1711.5,851.6C1713.0,851.6 1714.5,845.3 1716.0,840.5C1717.1,837.0 1718.2,831.0 1719.3,826.0C1720.4,820.9 1721.6,812.9 1722.7,810.3C1723.8,807.8 1724.9,805.3 1726.0,805.3C1727.1,805.3 1728.3,805.6 1729.4,805.9C1730.9,806.3 1732.3,810.3 1733.8,810.3C1734.9,810.3 1736.1,807.1 1737.2,804.7C1738.3,802.3 1739.4,796.2 1740.5,794.7C1742.0,792.6 1743.5,791.8 1745.0,790.8C1746.9,789.6 1748.7,788.8 1750.6,788.0C1752.1,787.4 1753.5,786.3 1755.0,786.3C1756.1,786.3 1757.3,789.5 1758.4,792.5C1759.5,795.5 1760.6,802.4 1761.7,809.2C1762.5,814.0 1763.2,821.4 1764.0,827.1C1764.9,833.8 1765.8,839.4 1766.7,846.1C1767.6,853.1 1768.6,862.2 1769.5,868.4C1770.3,873.5 1771.0,881.8 1771.8,881.8C1772.5,881.8 1773.3,881.4 1774.0,880.7C1774.7,880.0 1775.5,873.2 1776.2,868.4C1777.3,861.0 1778.5,846.5 1779.6,840.5C1781.1,832.7 1782.5,828.4 1784.0,823.7C1785.5,818.9 1787.0,815.2 1788.5,811.4C1790.4,806.6 1792.2,802.1 1794.1,798.0C1796.3,793.1 1798.6,789.0 1800.8,784.7C1803.4,779.7 1806.0,773.4 1808.6,770.1C1811.6,766.4 1814.5,763.4 1817.5,761.8C1820.5,760.2 1823.5,759.6 1826.5,758.4C1829.8,757.1 1833.2,756.1 1836.5,754.5C1839.1,753.3 1841.7,749.8 1844.3,749.8C1846.2,749.8 1848.0,750.1 1849.9,750.6C1851.4,751.0 1852.9,754.4 1854.4,755.6C1856.3,757.1 1858.1,759.0 1860.0,759.0C1861.6,759.0 1863.2,756.0 1864.8,756.0C1867.2,756.0 1869.7,757.2 1872.1,757.2C1874.5,757.2 1876.9,753.0 1879.3,753.0C1881.3,753.0 1883.4,753.8 1885.4,754.8C1887.4,755.8 1889.4,761.2 1891.4,765.1C1893.0,768.3 1894.7,773.4 1896.3,776.0C1897.9,778.6 1899.5,782.0 1901.1,782.0C1902.3,782.0 1903.5,777.2 1904.7,776.0C1906.1,774.5 1907.6,772.9 1909.0,772.9C1910.4,772.9 1911.8,777.3 1913.2,779.6C1915.2,782.9 1917.3,789.9 1919.3,789.9C1920.9,789.9 1922.5,785.2 1924.1,784.4C1926.1,783.4 1928.1,783.4 1930.1,782.6C1931.7,781.9 1933.4,779.6 1935.0,779.6C1937.0,779.6 1939.0,781.8 1941.0,783.2C1944.6,785.8 1948.3,790.0 1951.9,792.9C1956.3,796.5 1960.8,799.1 1965.2,802.6C1968.8,805.5 1972.5,808.6 1976.1,812.2C1978.9,815.0 1981.8,817.5 1984.6,821.9C1986.2,824.4 1987.8,828.2 1989.4,832.8C1990.6,836.2 1991.8,842.3 1993.0,846.1C1994.0,849.3 1995.0,854.6 1996.0,854.6C1997.2,854.6 1998.5,853.0 1999.7,850.9C2000.7,849.2 2001.7,840.7 2002.7,837.6C2004.3,832.7 2005.9,828.1 2007.5,826.7C2009.9,824.6 2012.4,823.1 2014.8,823.1C2018.4,823.1 2022.1,823.3 2025.7,823.7C2027.7,823.9 2029.7,826.3 2031.7,828.0C2034.1,830.0 2036.6,833.3 2039.0,835.2C2042.6,838.0 2046.3,841.9 2049.9,841.9C2052.7,841.9 2055.5,839.8 2058.3,838.8C2060.7,838.0 2063.2,837.4 2065.6,836.4C2068.8,835.0 2072.1,831.8 2075.3,830.4C2078.9,828.8 2082.5,828.4 2086.1,826.7C2088.9,825.4 2091.8,823.9 2094.6,820.7C2095.8,819.4 2097.0,814.9 2098.2,813.4C2100.6,810.4 2103.1,810.2 2105.5,807.4C2106.7,806.0 2107.9,801.3 2109.1,801.3C2110.3,801.3 2111.6,803.0 2112.8,803.8" fill="none" stroke="#0000ff" stroke-width="3.8" stroke-linejoin="round" stroke-linecap="round"/>
<line x1="184.2" y1="25.7" x2="2116.2" y2="25.7" stroke="#000" stroke-width="4.2"/>
<line x1="2114" y1="23.6" x2="2114" y2="1464.9" stroke="#000" stroke-width="4.4"/>
<line x1="186.4" y1="23.6" x2="184.6" y2="1464.9" stroke="#000" stroke-width="4.3"/>
<line x1="182.5" y1="1461.9" x2="2116.2" y2="1461.9" stroke="#000" stroke-width="6"/>
<line x1="184.3" y1="1462" x2="184.3" y2="1492.6" stroke="#000" stroke-width="4.2"/>
<line x1="318.6" y1="1462" x2="318.6" y2="1479" stroke="#000" stroke-width="4.2"/>
<line x1="453.0" y1="1462" x2="453.0" y2="1492.6" stroke="#000" stroke-width="4.2"/>
<line x1="587.3" y1="1462" x2="587.3" y2="1479" stroke="#000" stroke-width="4.2"/>
<line x1="721.6" y1="1462" x2="721.6" y2="1492.6" stroke="#000" stroke-width="4.2"/>
<line x1="855.9" y1="1462" x2="855.9" y2="1479" stroke="#000" stroke-width="4.2"/>
<line x1="990.3" y1="1462" x2="990.3" y2="1492.6" stroke="#000" stroke-width="4.2"/>
<line x1="1124.6" y1="1462" x2="1124.6" y2="1479" stroke="#000" stroke-width="4.2"/>
<line x1="1258.9" y1="1462" x2="1258.9" y2="1492.6" stroke="#000" stroke-width="4.2"/>
<line x1="1393.2" y1="1462" x2="1393.2" y2="1479" stroke="#000" stroke-width="4.2"/>
<line x1="1527.6" y1="1462" x2="1527.6" y2="1492.6" stroke="#000" stroke-width="4.2"/>
<line x1="1661.9" y1="1462" x2="1661.9" y2="1479" stroke="#000" stroke-width="4.2"/>
<line x1="1796.2" y1="1462" x2="1796.2" y2="1492.6" stroke="#000" stroke-width="4.2"/>
<line x1="1930.5" y1="1462" x2="1930.5" y2="1479" stroke="#000" stroke-width="4.2"/>
<line x1="2064.9" y1="1462" x2="2064.9" y2="1492.6" stroke="#000" stroke-width="4.2"/>
<line x1="1129.8" y1="434.5" x2="1109.8" y2="470.1" stroke="#000" stroke-width="2.1"/><polygon points="1092.1,501.5 1101.0,465.2 1109.8,470.1 1118.5,475.0" fill="#000"/>
<line x1="1350.6" y1="589.4" x2="1215.5" y2="629.4" stroke="#000" stroke-width="2.1"/><polygon points="1181.0,639.6 1212.7,619.8 1215.5,629.4 1218.4,639.0" fill="#000"/>
<line x1="1419.6" y1="583.1" x2="1402.2" y2="600.5" stroke="#000" stroke-width="2.1"/><polygon points="1376.7,626.0 1395.1,593.5 1402.2,600.5 1409.2,607.6" fill="#000"/>
<line x1="1465.6" y1="563.2" x2="1482.9" y2="622.6" stroke="#000" stroke-width="2.1"/><polygon points="1493.0,657.2 1473.3,625.4 1482.9,622.6 1492.5,619.8" fill="#000"/>
<line x1="1521.5" y1="438.8" x2="1529.2" y2="457.4" stroke="#000" stroke-width="2.1"/><polygon points="1543.0,490.7 1520.0,461.3 1529.2,457.4 1538.5,453.6" fill="#000"/>
<line x1="1634.0" y1="490.7" x2="1655.0" y2="519.4" stroke="#000" stroke-width="2.1"/><polygon points="1676.2,548.5 1646.9,525.3 1655.0,519.4 1663.0,513.5" fill="#000"/>
<line x1="1783.0" y1="337.7" x2="1807.2" y2="348.3" stroke="#000" stroke-width="2.1"/><polygon points="1840.2,362.8 1803.2,357.5 1807.2,348.3 1811.3,339.2" fill="#000"/>
<line x1="1441.0" y1="857.2" x2="1420.0" y2="889.7" stroke="#000" stroke-width="2.1"/><polygon points="1400.5,920.0 1411.6,884.3 1420.0,889.7 1428.4,895.2" fill="#000"/>
<line x1="1500.6" y1="829.3" x2="1499.0" y2="899.4" stroke="#000" stroke-width="2.1"/><polygon points="1498.2,935.4 1489.0,899.2 1499.0,899.4 1509.0,899.6" fill="#000"/>
<line x1="1552.6" y1="797.2" x2="1556.4" y2="872.9" stroke="#000" stroke-width="2.1"/><polygon points="1558.2,908.9 1546.4,873.4 1556.4,872.9 1566.4,872.4" fill="#000"/>
<line x1="1771.7" y1="882.3" x2="1787.1" y2="911.8" stroke="#000" stroke-width="2.1"/><polygon points="1803.8,943.7 1778.3,916.4 1787.1,911.8 1796.0,907.2" fill="#000"/>
<g font-family='"Liberation Sans", Arial, sans-serif' font-weight="bold" font-size="77">
<text x="184.3" y="1570" text-anchor="middle" class="tk">4000</text>
<text x="453.0" y="1570" text-anchor="middle" class="tk">3500</text>
<text x="721.6" y="1570" text-anchor="middle" class="tk">3000</text>
<text x="990.3" y="1570" text-anchor="middle" class="tk">2500</text>
<text x="1258.9" y="1570" text-anchor="middle" class="tk">2000</text>
<text x="1527.6" y="1570" text-anchor="middle" class="tk">1500</text>
<text x="1796.2" y="1570" text-anchor="middle" class="tk">1000</text>
<text x="2064.9" y="1570" text-anchor="middle" class="tk">500</text>
<text x="229" y="156.6" font-size="75">a</text>
<text x="228" y="397.8" font-size="75">b</text>
<text x="228.8" y="729.3" font-size="75">c</text>
</g>
<g font-family='"Liberation Serif", "Times New Roman", serif' font-weight="bold" font-size="51">
<text transform="translate(1106.75,552.5) scale(0.97,1)" text-anchor="middle" fill="#ff0000">2240.74</text>
<text transform="translate(1144.4,688.5) scale(0.97,1)" text-anchor="middle" fill="#ff0000">1826.86</text>
<text transform="translate(1327.0,679.1) scale(0.97,1)" text-anchor="middle" fill="#000000">1701.63</text>
<text transform="translate(1539.6,716.7) scale(0.97,1)" text-anchor="middle" fill="#000000">1623.35</text>
<text transform="translate(1555.75,536.4) scale(0.97,1)" text-anchor="middle" fill="#000000">1512</text>
<text transform="translate(1719.25,585.4) scale(0.97,1)" text-anchor="middle" fill="#000000">1301</text>
<text transform="translate(1911.9,386.6) scale(0.97,1)" text-anchor="middle" fill="#000000">1025</text>
<text transform="translate(1377.45,976.9) scale(0.97,1)" text-anchor="middle" fill="#0000ff">1652</text>
<text transform="translate(1508.65,1000.7) scale(0.97,1)" text-anchor="middle" fill="#0000ff">1550</text>
<text transform="translate(1613.25,935.1) scale(0.97,1)" text-anchor="middle" fill="#0000ff">1457</text>
<text transform="translate(1809.35,997.9) scale(0.97,1)" text-anchor="middle" fill="#0000ff">1045</text>
</g>
<text font-family='"Liberation Serif", "Times New Roman", serif' font-weight="bold" font-size="91" x="691" y="1698.6">Wavenumbers (cm<tspan dy="-36.3">-1</tspan><tspan dy="36.3">)</tspan></text>
<text font-family='"Liberation Serif", "Times New Roman", serif' font-weight="bold" font-size="91.2" transform="translate(100,1141) rotate(-90)" x="0" y="0">Transmittance (%)</text>
</svg>
</body></html>
